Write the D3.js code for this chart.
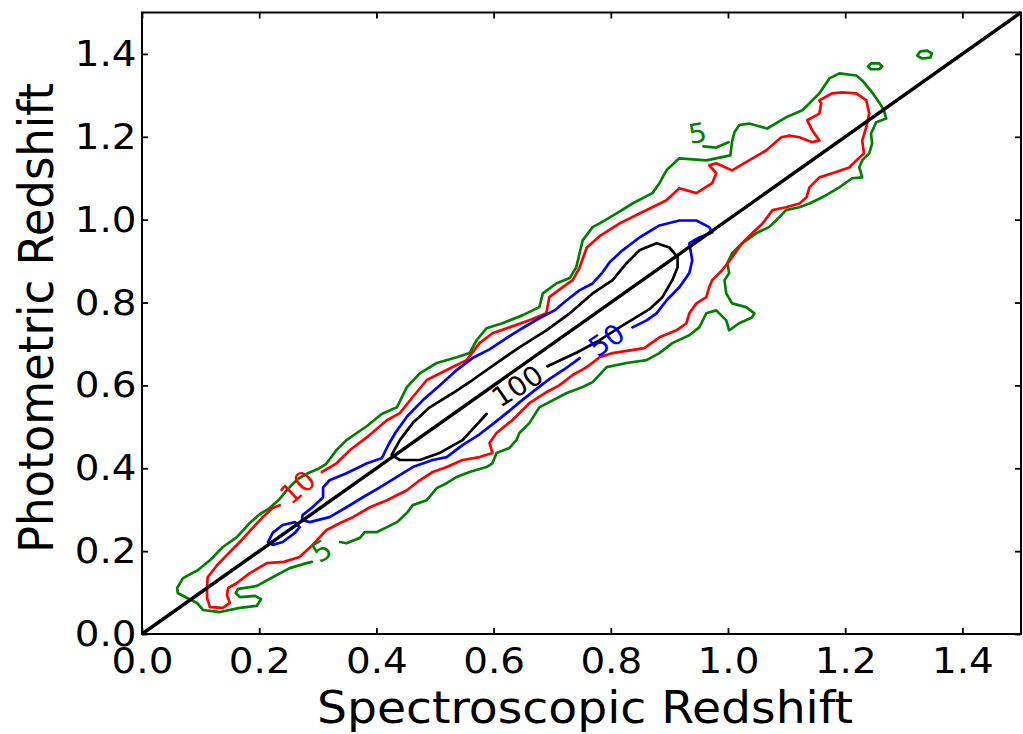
<!DOCTYPE html>
<html>
<head>
<meta charset="utf-8">
<script src="https://cdn.jsdelivr.net/npm/d3@7"></script>
<style>
  body { margin: 0; background: #fff; }
  svg { display: block; }
</style>
</head>
<body>
<svg id="chart" width="1023" height="734"></svg>
<script>
// Axis ticks
const xTicks = [0.0, 0.2, 0.4, 0.6, 0.8, 1.0, 1.2, 1.4];
const yTicks = [0.0, 0.2, 0.4, 0.6, 0.8, 1.0, 1.2, 1.4];
const xTitle = "Spectroscopic Redshift";
const yTitle = "Photometric Redshift";

// One-to-one relation z_phot = z_spec
const identityLine = [[0, 0], [1.5, 1.5]];

// Density contour, 5 galaxies per cell (main outline, broken at its lower label)
const contour5 = [
  [0.338,0.222],[0.349,0.219],[0.372,0.232],[0.380,0.246],[0.401,0.246],[0.418,0.258],
  [0.435,0.270],[0.452,0.292],[0.462,0.311],[0.486,0.323],[0.503,0.352],[0.520,0.364],
  [0.537,0.379],[0.559,0.391],[0.588,0.403],[0.598,0.412],[0.605,0.437],[0.627,0.449],
  [0.639,0.468],[0.644,0.485],[0.661,0.509],[0.678,0.547],[0.724,0.581],[0.752,0.596],
  [0.769,0.608],[0.793,0.644],[0.827,0.654],[0.861,0.661],[0.883,0.678],[0.905,0.702],
  [0.934,0.721],[0.951,0.740],[0.963,0.774],[0.980,0.781],[0.997,0.757],[1.002,0.733],
  [1.019,0.750],[1.041,0.764],[1.045,0.774],[1.031,0.789],[1.007,0.798],[0.997,0.822],
  [0.994,0.854],[1.002,0.871],[0.999,0.895],[1.007,0.919],[1.024,0.943],[1.048,0.967],
  [1.070,0.982],[1.082,0.998],[1.099,1.023],[1.122,1.030],[1.139,1.039],[1.161,1.054],
  [1.190,1.078],[1.212,1.100],[1.229,1.102],[1.224,1.126],[1.229,1.143],[1.241,1.160],
  [1.246,1.184],[1.244,1.208],[1.253,1.235],[1.270,1.244],[1.266,1.264],[1.258,1.283],
  [1.246,1.307],[1.229,1.336],[1.219,1.348],[1.190,1.353],[1.173,1.341],[1.156,1.305],
  [1.144,1.288],[1.127,1.264],[1.099,1.247],[1.067,1.220],[1.036,1.232],[1.019,1.228],
  [1.011,1.211],[1.007,1.189],[1.004,1.155],[0.963,1.143],[0.917,1.148],[0.895,1.119],
  [0.883,1.088],[0.871,1.064],[0.837,1.039],[0.810,1.015],[0.781,0.991],[0.769,0.982],
  [0.752,0.950],[0.741,0.885],[0.730,0.859],[0.707,0.846],[0.684,0.822],[0.678,0.789],
  [0.649,0.769],[0.615,0.750],[0.588,0.738],[0.571,0.709],[0.559,0.678],[0.537,0.668],
  [0.503,0.654],[0.474,0.629],[0.452,0.596],[0.435,0.547],[0.409,0.531],[0.384,0.502],
  [0.349,0.468],[0.332,0.444],[0.314,0.410],[0.300,0.398],[0.283,0.388],[0.266,0.374],
  [0.249,0.350],[0.235,0.326],[0.218,0.304],[0.201,0.289],[0.184,0.268],[0.162,0.234],
  [0.138,0.210],[0.116,0.178],[0.095,0.154],[0.070,0.135],[0.060,0.111],[0.061,0.099],
  [0.077,0.087],[0.094,0.075],[0.104,0.058],[0.133,0.053],[0.167,0.063],[0.196,0.068],
  [0.203,0.084],[0.193,0.092],[0.167,0.089],[0.160,0.099],[0.164,0.109],[0.184,0.113],
  [0.196,0.116],[0.223,0.137],[0.252,0.159],[0.281,0.171],[0.290,0.174]
];
// Narrow spur of the 5-level contour ending at its upper label
const contour5Spur = [[1.001,1.187],[0.980,1.174],[0.958,1.177]];
// Two isolated 5-level islands at high redshift
const contour5IslandA = [[1.239,1.370],[1.244,1.377],[1.258,1.377],[1.263,1.370],[1.258,1.363],[1.244,1.363]];
const contour5IslandB = [[1.323,1.396],[1.328,1.406],[1.340,1.408],[1.348,1.401],[1.345,1.391],[1.331,1.389]];

// Density contour, 10 per cell (broken at its label)
const contour10 = [
  [0.307,0.391],[0.332,0.412],[0.355,0.444],[0.384,0.475],[0.418,0.516],[0.440,0.533],
  [0.462,0.572],[0.486,0.613],[0.520,0.637],[0.554,0.661],[0.576,0.702],[0.598,0.726],
  [0.627,0.740],[0.661,0.757],[0.690,0.774],[0.695,0.813],[0.718,0.837],[0.735,0.854],
  [0.747,0.885],[0.759,0.933],[0.781,0.960],[0.815,0.991],[0.849,1.015],[0.871,1.030],
  [0.895,1.047],[0.917,1.076],[0.946,1.064],[0.973,1.088],[0.980,1.112],[0.968,1.131],
  [0.980,1.136],[1.007,1.119],[1.036,1.143],[1.065,1.167],[1.091,1.199],[1.105,1.203],
  [1.122,1.199],[1.144,1.187],[1.156,1.191],[1.144,1.215],[1.135,1.240],[1.156,1.256],
  [1.159,1.281],[1.156,1.288],[1.178,1.305],[1.195,1.307],[1.219,1.305],[1.236,1.288],
  [1.241,1.256],[1.236,1.223],[1.229,1.191],[1.232,1.160],[1.219,1.143],[1.207,1.126],
  [1.178,1.112],[1.156,1.102],[1.139,1.078],[1.134,1.054],[1.122,1.039],[1.099,1.030],
  [1.076,1.023],[1.059,0.991],[1.041,0.967],[1.024,0.943],[1.007,0.909],[0.990,0.878],
  [0.973,0.854],[0.968,0.837],[0.963,0.813],[0.946,0.798],[0.934,0.774],[0.929,0.750],
  [0.912,0.733],[0.883,0.716],[0.857,0.690],[0.803,0.678],[0.781,0.668],[0.759,0.644],
  [0.735,0.625],[0.712,0.600],[0.687,0.581],[0.661,0.557],[0.632,0.516],[0.605,0.485],
  [0.593,0.461],[0.598,0.437],[0.576,0.427],[0.547,0.420],[0.520,0.403],[0.496,0.391],
  [0.474,0.371],[0.452,0.347],[0.418,0.323],[0.389,0.306],[0.360,0.282],[0.338,0.268],
  [0.315,0.251],[0.291,0.215],[0.269,0.186],[0.242,0.174],[0.213,0.171],[0.184,0.147],
  [0.162,0.123],[0.147,0.111],[0.145,0.094],[0.150,0.075],[0.138,0.063],[0.116,0.065],
  [0.111,0.087],[0.111,0.113],[0.112,0.137],[0.128,0.166],[0.145,0.191],[0.167,0.222],
  [0.189,0.256],[0.206,0.282],[0.223,0.304],[0.235,0.311]
];

// Density contour, 50 per cell (broken at its label) and a small detached island
const contour50 = [
  [0.837,0.740],[0.861,0.757],[0.878,0.774],[0.895,0.805],[0.917,0.837],[0.934,0.871],
  [0.939,0.902],[0.934,0.943],[0.951,0.957],[0.973,0.969],[0.968,0.982],[0.946,0.998],
  [0.917,0.998],[0.883,0.986],[0.849,0.957],[0.820,0.926],[0.798,0.897],[0.786,0.873],
  [0.769,0.846],[0.747,0.830],[0.724,0.805],[0.704,0.781],[0.678,0.762],[0.649,0.738],
  [0.622,0.714],[0.593,0.687],[0.564,0.666],[0.537,0.637],[0.508,0.600],[0.479,0.564],
  [0.453,0.526],[0.433,0.487],[0.421,0.458],[0.409,0.424],[0.384,0.412],[0.349,0.388],
  [0.320,0.371],[0.309,0.354],[0.309,0.330],[0.291,0.306],[0.274,0.287],[0.273,0.275],
  [0.286,0.270],[0.320,0.282],[0.349,0.306],[0.377,0.330],[0.406,0.354],[0.435,0.379],
  [0.462,0.403],[0.496,0.420],[0.520,0.427],[0.547,0.456],[0.576,0.482],[0.598,0.506],
  [0.622,0.533],[0.644,0.559],[0.670,0.588],[0.695,0.615],[0.721,0.639],[0.747,0.666]
];
const contour50Island = [
  [0.215,0.222],[0.223,0.244],[0.240,0.263],[0.261,0.270],[0.269,0.258],[0.261,0.244],
  [0.240,0.222],[0.223,0.215]
];

// Density contour, 100 per cell (broken at its label)
const contour100 = [
  [0.692,0.646],[0.743,0.680],[0.781,0.709],[0.815,0.740],[0.840,0.762],[0.866,0.784],
  [0.888,0.813],[0.905,0.854],[0.914,0.885],[0.914,0.909],[0.900,0.933],[0.878,0.943],
  [0.849,0.926],[0.827,0.895],[0.803,0.854],[0.769,0.822],[0.730,0.774],[0.690,0.733],
  [0.644,0.692],[0.605,0.654],[0.564,0.613],[0.530,0.581],[0.491,0.547],[0.462,0.509],
  [0.440,0.468],[0.426,0.432],[0.440,0.420],[0.474,0.420],[0.508,0.437],[0.547,0.468],
  [0.588,0.531]
];

// Inline contour labels: level and anchor point (z_spec, z_phot)
const labelLevels = [5, 5, 10, 50, 100];
const labelSpecZ  = [0.307, 0.948, 0.266, 0.793, 0.641];
const labelPhotZ  = [0.200, 1.208, 0.354, 0.709, 0.598];

// ---- drawing ----
const svg = d3.select("#chart");
const FONT = "DejaVu Sans";
const x = d3.scaleLinear().domain([0, 1.5]).range([142, 1021]);
const y = d3.scaleLinear().domain([0, 1.5]).range([634, 12.5]);

const levelColor = {5: "#008000", 10: "#ff0000", 50: "#0000ff", 100: "#000000"};
const labelAngle = [-32, -10, -42, -35, -33];

const line = d3.line().x(d => x(d[0])).y(d => y(d[1]));
const closed = d3.line().x(d => x(d[0])).y(d => y(d[1])).curve(d3.curveLinearClosed);

const gC = svg.append("g").attr("fill", "none").attr("stroke-width", 2.7)
  .attr("stroke-linejoin", "round").attr("stroke-linecap", "round");

const openPaths = [
  [contour5, 5], [contour5Spur, 5], [contour10, 10], [contour50, 50], [contour100, 100]
];
const closedPaths = [
  [contour5IslandA, 5], [contour5IslandB, 5], [contour50Island, 50]
];
openPaths.forEach(([pts, lv]) => gC.append("path").attr("d", line(pts)).attr("stroke", levelColor[lv]));
closedPaths.forEach(([pts, lv]) => gC.append("path").attr("d", closed(pts)).attr("stroke", levelColor[lv]));

// contour labels
labelLevels.forEach((lv, i) => {
  svg.append("text")
    .attr("transform", `translate(${x(labelSpecZ[i])},${y(labelPhotZ[i])}) scale(1.06,1) rotate(${labelAngle[i]})`)
    .attr("text-anchor", "middle")
    .attr("dominant-baseline", "central")
    .attr("font-family", FONT)
    .attr("font-size", 27)
    .attr("fill", levelColor[lv])
    .text(lv);
});

// identity line
svg.append("path").attr("d", line(identityLine))
  .attr("stroke", "#000").attr("stroke-width", 3.4).attr("fill", "none");

// axes with inward ticks on all four sides
function styleAxis(g) {
  g.select(".domain").remove();
  g.selectAll(".tick line").attr("stroke", "#000").attr("stroke-width", 1.8);
  g.selectAll(".tick text").attr("font-family", FONT).attr("font-size", 36).attr("fill", "#000");
}
const fmt = d3.format(".1f");
svg.append("g").attr("transform", "translate(0,634)")
  .call(d3.axisBottom(x).tickValues(xTicks).tickFormat(fmt).tickSizeInner(-6).tickSizeOuter(0).tickPadding(13))
  .call(styleAxis)
  .call(g => g.selectAll(".tick text").attr("transform", "scale(1.08,1)"));
svg.append("g").attr("transform", "translate(142,0)")
  .call(d3.axisLeft(y).tickValues(yTicks).tickFormat(fmt).tickSizeInner(-6).tickSizeOuter(0).tickPadding(5))
  .call(styleAxis)
  .call(g => g.selectAll(".tick text").attr("transform", "scale(1.08,1)"));
svg.append("g").attr("transform", "translate(0,12.5)")
  .call(d3.axisTop(x).tickValues(xTicks).tickFormat("").tickSizeInner(-6).tickSizeOuter(0))
  .call(styleAxis);
svg.append("g").attr("transform", "translate(1021,0)")
  .call(d3.axisRight(y).tickValues(yTicks).tickFormat("").tickSizeInner(-6).tickSizeOuter(0))
  .call(styleAxis);

// frame
svg.append("rect")
  .attr("x", x(0)).attr("y", y(1.5))
  .attr("width", x(1.5) - x(0)).attr("height", y(0) - y(1.5))
  .attr("fill", "none").attr("stroke", "#000").attr("stroke-width", 2);

// axis titles
svg.append("text")
  .attr("transform", "translate(585,723) scale(1.05,1)")
  .attr("text-anchor", "middle")
  .attr("font-family", FONT).attr("font-size", 45).attr("fill", "#000")
  .text(xTitle);
svg.append("text")
  .attr("transform", "translate(53,318) scale(1.05,1) rotate(-90)")
  .attr("text-anchor", "middle")
  .attr("font-family", FONT).attr("font-size", 45).attr("fill", "#000")
  .text(yTitle);
</script>
</body>
</html>
